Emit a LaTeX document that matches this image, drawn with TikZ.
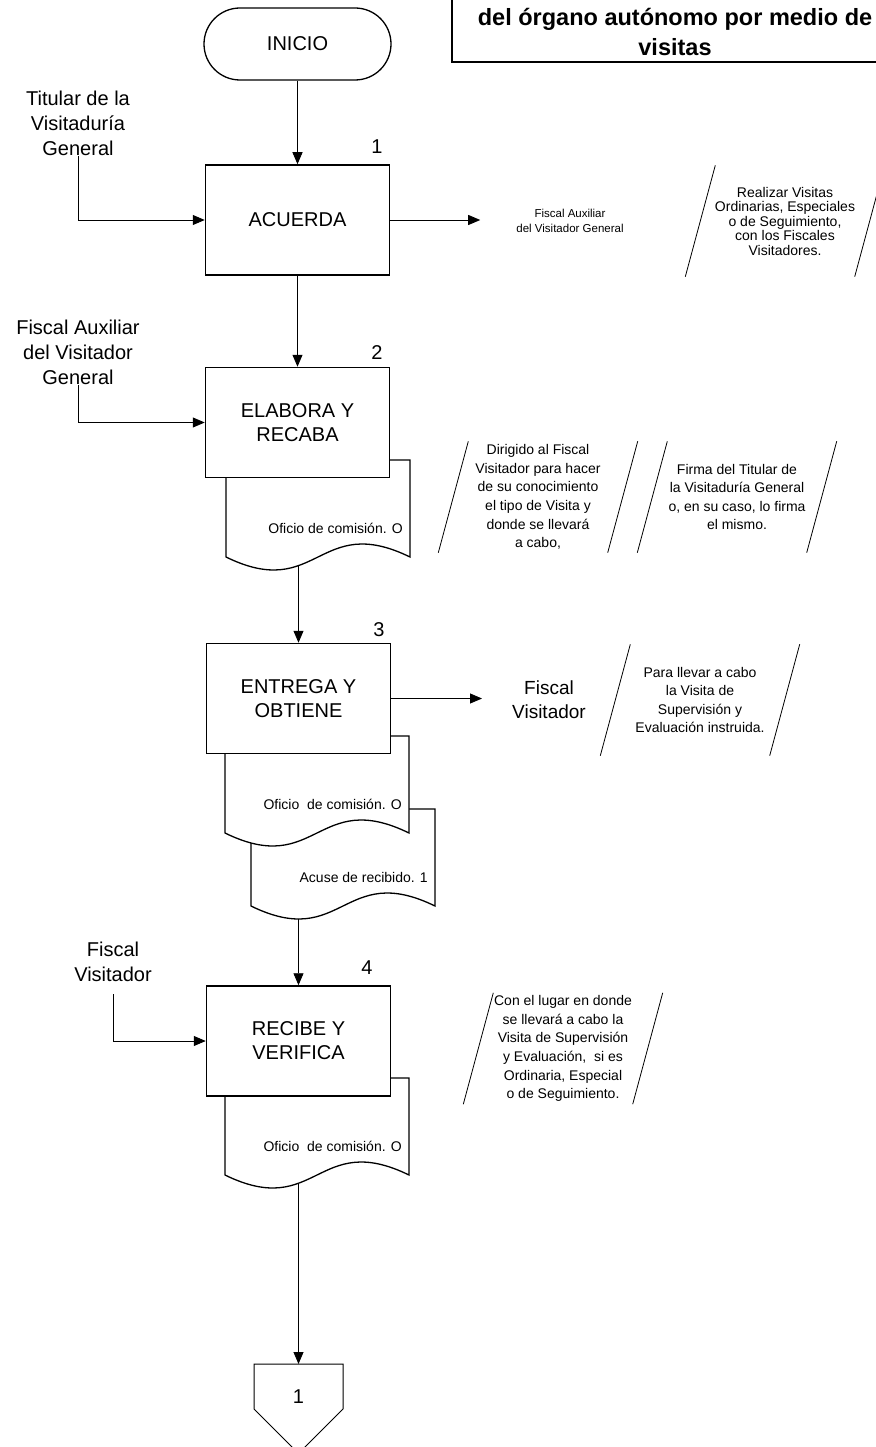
\documentclass[tikz,border=0pt]{standalone}
\usepackage{fontspec}
\setmainfont{Liberation Sans}
\usetikzlibrary{arrows.meta}
\newcommand\DrawDocumento[5][0.64]{%
  \pgfmathsetmacro\xDer{#3+184}%
  \pgfmathsetmacro\xMed{#3+92}%
  \pgfmathsetmacro\yBase{#4-97}% bottom of the sides
  \pgfmathsetmacro\yArr{\yBase+45}%
  \pgfmathsetmacro\yAba{\yBase-45}%
  \draw[documento] (#3,#4) -- (\xDer,#4) -- (\xDer,\yBase)
    .. controls (\xMed,\yArr) and (\xMed,\yAba) .. coordinate[pos=#1] (#2) (#3,\yBase) -- cycle;
  \node[doctexto] (#2-txt) at (\xDer-7,#4-68) {#5};
}
\tikzset{
  caja/.style={draw, line width=1.5pt, fill=white, minimum width=184pt, minimum height=110pt,
    align=center, inner sep=0pt, font=\fontsize{20}{24}\selectfont},
  terminal/.style={draw, line width=1.3pt, fill=white, rounded corners=36pt,
    minimum width=187pt, minimum height=72pt, font=\fontsize{20}{24}\selectfont},
  etiqueta/.style={align=center, inner sep=0pt, font=\fontsize{20}{25}\selectfont},
  numero/.style={inner sep=0pt, font=\fontsize{20}{24}\selectfont},
  nota/.style={align=center, inner sep=0pt, minimum width=169pt, minimum height=111pt,
    font=\fontsize{14}{#1}\selectfont,
    append after command={
      ([xshift=-15pt]\tikzlastnode.south west) edge[line width=0.8pt] ([xshift=15pt]\tikzlastnode.north west)
      ([xshift=-15pt]\tikzlastnode.south east) edge[line width=0.8pt] ([xshift=15pt]\tikzlastnode.north east)}},
  nota/.default=18.6,
  documento/.style={draw, line width=1.3pt, fill=white},
  doctexto/.style={inner sep=0pt, anchor=east, font=\fontsize{14}{17}\selectfont},
  flecha/.style={draw, line width=0.9pt, -{Triangle[length=12pt,width=10pt]}},
  titulo/.style={align=center, inner sep=0pt, font=\fontsize{23.5}{30}\selectfont\bfseries},
}
\begin{document}
\begin{tikzpicture}[x=1pt,y=1pt]
\useasboundingbox (0,0) rectangle (875,-1447);

% titulo
\draw[line width=1.6pt] (452,-62) rectangle (900,20);
\node[titulo] (titulo) at (675,-32) {del órgano autónomo por medio de\\visitas};

% documentos (antes que las cajas)
\DrawDocumento{docA}{226}{-460}{Oficio de comisión. O}
\DrawDocumento[0.8]{docC}{251}{-809}{Acuse de recibido. 1}
\DrawDocumento{docB}{225}{-736}{Oficio\ \ de comisión. O}
\DrawDocumento{docD}{225}{-1078}{Oficio\ \ de comisión. O}

% pasos
\node[terminal] (inicio) at (297.5,-44) {INICIO};
\node[caja] (acuerda) at (297.5,-220) {ACUERDA};
\node[caja] (elabora) at (297.5,-422.5) {ELABORA Y\\RECABA};
\node[caja] (entrega) at (298.5,-698.5) {ENTREGA Y\\OBTIENE};
\node[caja] (recibe) at (298.5,-1041) {RECIBE Y\\VERIFICA};
\node[numero] (n1) at (377,-147) {1};
\node[numero] (n2) at (377,-353) {2};
\node[numero] (n3) at (379,-630) {3};
\node[numero] (n4) at (367,-968) {4};

% responsables
\node[etiqueta] (titular) at (78,-123) {Titular de la\\Visitaduría\\General};
\node[etiqueta] (fax) at (78,-352) {Fiscal Auxiliar\\del Visitador\\General};
\node[etiqueta] (fv4) at (113,-962) {Fiscal\\Visitador};
\node[etiqueta, font=\fontsize{19}{24}\selectfont] (fv3) at (549,-700) {Fiscal\\Visitador};
\node[align=center, inner sep=0pt, font=\fontsize{11.5}{15}\selectfont] (fa1) at (570,-220.5)
  {Fiscal Auxiliar\\del Visitador General};

% notas
\node[nota=14.5] (nRealizar) at (785,-221)
  {Realizar Visitas\\Ordinarias, Especiales\\o de Seguimiento,\\con los Fiscales\\Visitadores.};
\node[nota] (nDirigido) at (538,-497)
  {Dirigido al Fiscal\\Visitador para hacer\\de su conocimiento\\el tipo de Visita y\\donde se llevará\\a cabo,};
\node[nota] (nFirma) at (737,-497)
  {Firma del Titular de\\la Visitaduría General\\o, en su caso, lo firma\\el mismo.};
\node[nota=18.3] (nPara) at (700,-700)
  {Para llevar a cabo\\la Visita de\\Supervisión y\\Evaluación instruida.};
\node[nota] (nLugar) at (563,-1048.5)
  {Con el lugar en donde\\se llevará a cabo la\\Visita de Supervisión\\y Evaluación,\ \ si es\\Ordinaria, Especial\\o de Seguimiento.};

% conector fuera de pagina
\draw[line width=1pt, fill=white] (254,-1364) -- (343,-1364) -- (343,-1409)
  -- (298.5,-1453.5) -- (254,-1409) -- cycle;
\coordinate (finN) at (298.5,-1364);
\node[numero] (fin) at (298.5,-1397) {1};

% flechas
\draw[flecha] (inicio.south) -- (acuerda.north);
\draw[flecha] (acuerda.south) -- (elabora.north);
\draw[flecha] (entrega.north |- docA) -- (entrega.north);
\draw[flecha] (recibe.north |- docC) -- (recibe.north);
\draw[flecha] (finN |- docD) -- (finN);
\draw[flecha] (titular.south) |- (acuerda.west);
\draw[flecha] (fax.south) |- (elabora.west);
\draw[flecha, shorten <=12pt] (fv4.south) |- (recibe.west);
\draw[flecha, shorten >=36pt] (acuerda.east) -- (acuerda.east -| fa1.west);
\draw[flecha, shorten >=30pt] (entrega.east) -- (entrega.east -| fv3.west);
\end{tikzpicture}
\end{document}
